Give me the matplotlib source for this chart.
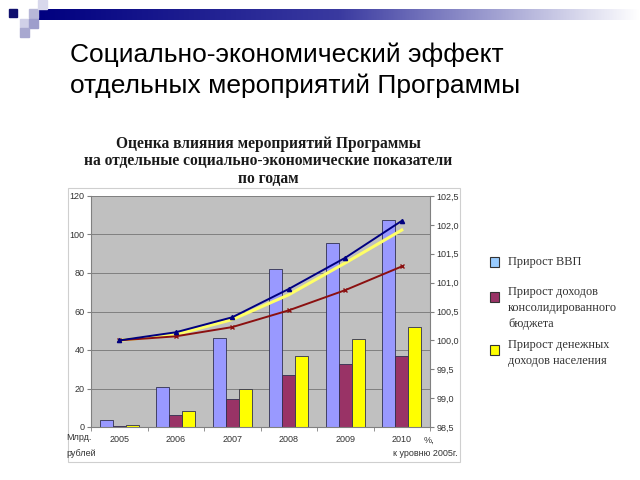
import numpy as np
import matplotlib
matplotlib.use('Agg')
import matplotlib.pyplot as plt
from matplotlib.patches import Rectangle
from matplotlib.colors import LinearSegmentedColormap

# данные
years = ['2005', '2006', '2007', '2008', '2009', '2010']
vvp_bars = [3.5, 21, 46, 82, 95.5, 107.5]          # Прирост ВВП, млрд руб.
budget_bars = [0.4, 6, 14.5, 27, 32.5, 37]          # Прирост доходов бюджета
income_bars = [0.8, 8.5, 20, 37, 45.5, 52]          # Прирост денежных доходов
vvp_pct = [100.0, 100.14, 100.40, 100.89, 101.43, 102.07]
income_pct = [100.0, 100.10, 100.36, 100.79, 101.34, 101.91]
budget_pct = [100.0, 100.07, 100.23, 100.52, 100.87, 101.28]
left_ticks = [0, 20, 40, 60, 80, 100, 120]
right_ticks = [98.5, 99.0, 99.5, 100.0, 100.5, 101.0, 101.5, 102.0, 102.5]

sans = 'Liberation Sans'
serif = 'Liberation Serif'

fig = plt.figure(figsize=(6.4, 4.8), dpi=100)
W, H = 640, 480

def fx(px):
    return px / W

def fy(py):
    return 1 - py / H

# --- шапка слайда: градиентная полоса и квадратики ---
band = fig.add_axes([fx(38), fy(20), fx(602), 11 / H])
grad = np.linspace(0, 1, 256).reshape(1, -1)
cm = LinearSegmentedColormap.from_list('band', ['#000080', '#3a3aa0', '#ffffff'])
band.imshow(grad, aspect='auto', cmap=cm)
band.axis('off')

squares = [
    (9, 9, 8, '#10106e'),
    (29, 9, 9, '#b8b8d8'),
    (38, 0, 9, '#d8d8ec'),
    (20, 19, 9, '#d0d0e8'),
    (29, 19, 9, '#9e9ecc'),
    (20, 28, 9, '#a8a8d0'),
]
for x, y, s, c in squares:
    fig.patches.append(Rectangle((fx(x), fy(y + s)), s / W, s / H,
                                 transform=fig.transFigure, color=c, zorder=3))

fig.text(fx(70), fy(55), 'Социально-экономический эффект', fontsize=19,
         family=sans, va='center', ha='left')
fig.text(fx(70), fy(86), 'отдельных мероприятий Программы', fontsize=19,
         family=sans, va='center', ha='left')

# --- заголовок диаграммы ---
title_lines = ['Оценка влияния мероприятий Программы',
               'на отдельные социально-экономические показатели',
               'по годам']
for line, yy in zip(title_lines, [144, 161, 179]):
    fig.text(fx(268), fy(yy), line, fontsize=11.2, family=serif,
             fontweight='bold', ha='center', va='center', color='#1a1a1a')

# рамка области диаграммы
fig.patches.append(Rectangle((fx(68), fy(462)), 392 / W, 274 / H,
                             transform=fig.transFigure, facecolor='white',
                             edgecolor='#cfcfcf', linewidth=0.8, zorder=-5))

ax = fig.add_axes([fx(91), fy(427), 339 / W, 231 / H])
ax.set_facecolor('#c0c0c0')
x = np.arange(len(years))
bw = 0.23
edge = '#303050'
ax.bar(x - bw, vvp_bars, bw, color='#9999ff', edgecolor=edge, linewidth=0.6, zorder=2)
ax.bar(x, budget_bars, bw, color='#993366', edgecolor=edge, linewidth=0.6, zorder=2)
ax.bar(x + bw, income_bars, bw, color='#ffff00', edgecolor=edge, linewidth=0.6, zorder=2)
ax.set_xlim(-0.5, len(years) - 0.5)
ax.set_ylim(0, 120)
ax.set_yticks(left_ticks)
ax.set_yticklabels([str(t) for t in left_ticks])
ax.yaxis.grid(True, color='#808080', linewidth=0.7, zorder=1)
ax.set_axisbelow(True)
ax.set_xticks(x)
ax.set_xticklabels(years)
ax.set_xticks(np.arange(-0.5, len(years)), minor=True)
ax.tick_params(axis='x', which='major', length=0, pad=6)
ax.tick_params(axis='x', which='minor', length=3, color='#808080')
ax.tick_params(axis='y', length=3, color='#808080', pad=1.5)
ax.tick_params(labelsize=6.5, labelcolor='#333333')
for lab in ax.get_xticklabels() + ax.get_yticklabels():
    lab.set_family(sans)
for s in ['top', 'right']:
    ax.spines[s].set_visible(False)
ax.spines['left'].set_color('#808080')
ax.spines['bottom'].set_color('#808080')
ax.spines['left'].set_linewidth(0.8)
ax.spines['bottom'].set_linewidth(0.8)

ax2 = ax.twinx()
ax2.plot(x, income_pct, color='#ffff66', linewidth=2.2, zorder=3)
ax2.plot(x, budget_pct, color='#8b1010', linewidth=1.4, marker='x',
         markersize=3, markeredgewidth=1, zorder=4)
ax2.plot(x, vvp_pct, color='#000080', linewidth=1.4, marker='^',
         markersize=3, zorder=5)
ax2.set_ylim(98.5, 102.5)
ax2.set_yticks(right_ticks)
ax2.set_yticklabels([f'{t:.1f}'.replace('.', ',') for t in right_ticks])
ax2.tick_params(axis='y', length=3, color='#808080', labelsize=6.5,
                labelcolor='#333333', pad=1.5)
for lab in ax2.get_yticklabels():
    lab.set_family(sans)
for s in ['top', 'left', 'bottom']:
    ax2.spines[s].set_visible(False)
ax2.spines['right'].set_color('#808080')
ax2.spines['right'].set_linewidth(0.8)

# подписи единиц
fig.text(fx(66), fy(438), 'Млрд.', fontsize=6.5, family=sans, color='#333333', va='center')
fig.text(fx(66), fy(453), 'рублей', fontsize=6.5, family=sans, color='#333333', va='center')
fig.text(fx(424), fy(440), '%,', fontsize=6.5, family=sans, color='#333333', va='center')
fig.text(fx(458), fy(453), 'к уровню 2005г.', fontsize=6.5, family=sans,
         color='#333333', va='center', ha='right')

# --- легенда ---
legend_items = [
    (['Прирост ВВП'], '#99ccff', 262),
    (['Прирост доходов', 'консолидированного', 'бюджета'], '#993366', 297),
    (['Прирост денежных', 'доходов населения'], '#ffff00', 350),
]
for lines, col, yy in legend_items:
    fig.patches.append(Rectangle((fx(490), fy(yy + 5)), 9 / W, 10 / H,
                                 transform=fig.transFigure, facecolor=col,
                                 edgecolor='#333333', linewidth=0.8))
    first = yy if len(lines) == 1 else yy - 5
    for i, line in enumerate(lines):
        fig.text(fx(508), fy(first + 16 * i), line, fontsize=8.8, family=serif,
                 color='#333333', va='center', ha='left')

plt.savefig('out.png', dpi=100)
